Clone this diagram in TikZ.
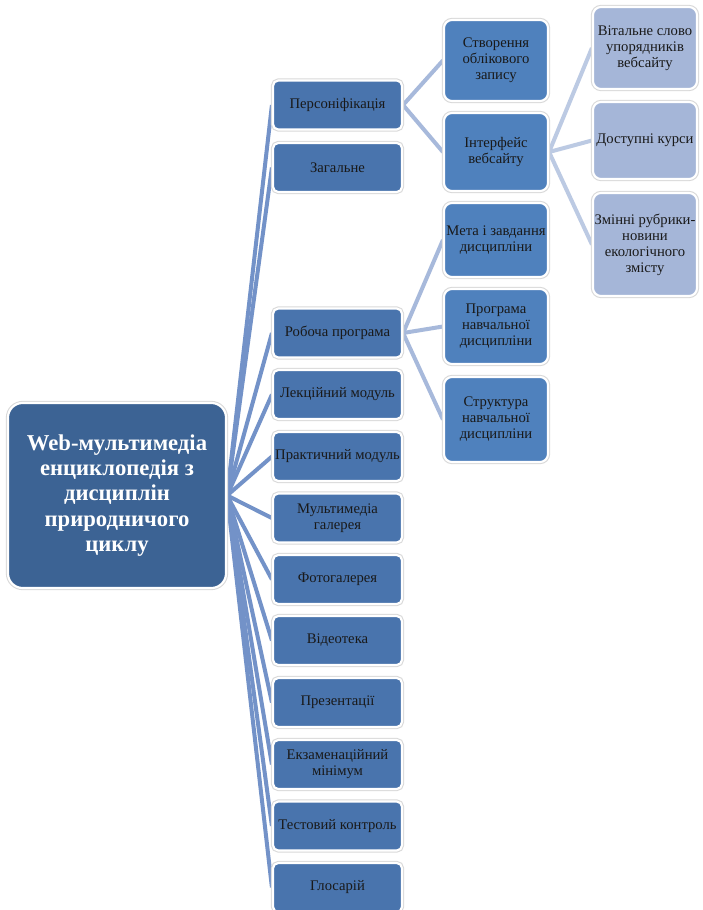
\documentclass[tikz,border=0pt]{standalone}
\usepackage{fontspec}
\setmainfont{Liberation Serif}
\usetikzlibrary{backgrounds}
\definecolor{rootc}{HTML}{3C6394}
\definecolor{lonec}{HTML}{4974AD}
\definecolor{ltwoc}{HTML}{4F81BD}
\definecolor{lthreec}{HTML}{A5B6D8}
\definecolor{conone}{HTML}{7392C8}
\definecolor{contwo}{HTML}{A7B9DB}
\definecolor{conthree}{HTML}{BCCAE3}
\begin{document}
\begin{tikzpicture}[x=0.75pt,y=-0.75pt,
  box/.style={fill=#1, draw=white, line width=1.6pt,
    preaction={draw=black!15, line width=3.2pt},
    inner sep=0pt, align=center, text=black!90,
    font=\fontsize{11}{12}\selectfont},
  lone/.style={box=lonec, rounded corners=4pt, minimum width=96.75pt, minimum height=36.75pt},
  ltwo/.style={box=ltwoc, rounded corners=6pt, minimum width=78pt},
  lthree/.style={box=lthreec, rounded corners=6pt, minimum width=78pt},
  rootbox/.style={box=rootc, rounded corners=11pt, minimum width=163.5pt, minimum height=138.75pt,
    text=white, font=\fontsize{17}{19}\selectfont\bfseries},
  conA/.style={draw=conone, line width=3pt},
  conB/.style={draw=contwo, line width=3pt},
  conC/.style={draw=conthree, line width=3pt}
]
\useasboundingbox (0,0) rectangle (703,910);

\node[rootbox] (root) at (117,495.5) {Web-мультимедіа\\енциклопедія з\\дисциплін\\природничого\\циклу};

\node[lone] (pers) at (337.5,105)   {Персоніфікація};
\node[lone] (zag)  at (337.5,167.5) {Загальне};
\node[lone] (rob)  at (337.5,333)   {Робоча програма};
\node[lone] (lek)  at (337.5,394.5) {Лекційний модуль};
\node[lone] (prak) at (337.5,456.5) {Практичний модуль};
\node[lone] (mult) at (337.5,518)   {Мультимедіа\\галерея};
\node[lone] (foto) at (337.5,579.5) {Фотогалерея};
\node[lone] (vid)  at (337.5,640.5) {Відеотека};
\node[lone] (prez) at (337.5,702.5) {Презентації};
\node[lone] (ekz)  at (337.5,764.5) {Екзаменаційний\\мінімум};
\node[lone] (test) at (337.5,826)   {Тестовий контроль};
\node[lone] (glos) at (337.5,887.5) {Глосарій};

\node[ltwo, minimum height=60.75pt] (stv) at (496,60.5)  {Створення\\облікового\\запису};
\node[ltwo, minimum height=58.5pt]  (int) at (496,152)   {Інтерфейс\\вебсайту};
\node[ltwo, minimum height=55.5pt]  (meta) at (496,240)  {Мета і завдання\\дисципліни};
\node[ltwo, minimum height=56.25pt] (prog) at (496,326.5) {Програма\\навчальної\\дисципліни};
\node[ltwo, minimum height=63.75pt] (str) at (496,419.5) {Структура\\навчальної\\дисципліни};

\node[lthree, minimum height=61.5pt]  (vit) at (645,48)    {Вітальне слово\\упорядників\\вебсайту};
\node[lthree, minimum height=57.75pt] (dost) at (645,140.5) {Доступні курси};
\node[lthree, minimum height=77.25pt] (zmin) at (645,244.5) {Змінні рубрики-\\новини\\екологічного\\змісту};

\begin{scope}[on background layer]
\fill[white] (0,0) rectangle (703,910);
\foreach \n in {pers,zag,rob,lek,prak,mult,foto,vid,prez,ekz,test,glos}
  \draw[conA] (root.east) -- (\n.west);
\draw[conB] (pers.east) -- (stv.west);
\draw[conB] (pers.east) -- (int.west);
\draw[conB] (rob.east) -- (meta.west);
\draw[conB] (rob.east) -- (prog.west);
\draw[conB] (rob.east) -- (str.west);
\draw[conC] (int.east) -- (vit.west);
\draw[conC] (int.east) -- (dost.west);
\draw[conC] (int.east) -- (zmin.west);
\end{scope}
\end{tikzpicture}
\end{document}
